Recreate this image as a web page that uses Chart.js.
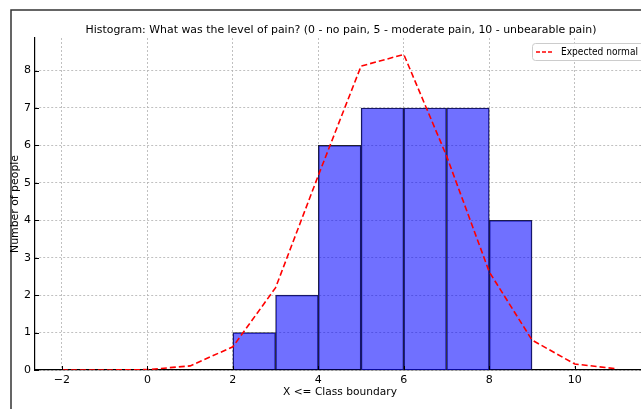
<!DOCTYPE html>
<html>
<head>
<meta charset="utf-8">
<script src="https://cdn.jsdelivr.net/npm/chart.js@4/dist/chart.umd.min.js"></script>
<style>
  html, body { margin: 0; padding: 0; background: #fff; overflow: hidden; }
  #wrap { position: absolute; left: 0; top: 0; width: 641px; height: 409px; }
</style>
</head>
<body>
<div id="wrap"><canvas id="myChart"></canvas></div>
<script>
// histogram bins (left edge) and counts
const binStarts = [2, 3, 4, 5, 6, 7, 8];
const counts = [1, 2, 6, 7, 7, 7, 4];

// expected normal curve
const normalX = [-2, -1, 0, 1, 2, 3, 4, 5, 6, 7, 8, 9, 10, 11];
const normalY = [0, 0, 0.01, 0.11, 0.62, 2.2, 5.2, 8.12, 8.43, 5.72, 2.62, 0.8, 0.16, 0.03];

const xTickVals = [-2, 0, 2, 4, 6, 8, 10];
const yTickVals = [0, 1, 2, 3, 4, 5, 6, 7, 8];

const titleText = 'Histogram: What was the level of pain? (0 - no pain, 5 - moderate pain, 10 - unbearable pain)';
const xLabel = 'X <= Class boundary';
const yLabel = 'Number of people';
const legendLabel = 'Expected normal';

const FONT = '"DejaVu Sans", sans-serif';

// draw text centred at (cx, cy) stretched or squeezed to a given width
function fitText(ctx, text, cx, cy, w) {
    const m = ctx.measureText(text).width;
    ctx.save();
    ctx.translate(cx, cy);
    ctx.scale(w / m, 1);
    ctx.fillText(text, 0, 0);
    ctx.restore();
}

const decor = {
    id: 'decor',
    beforeDraw(chart) {
        const ctx = chart.ctx;
        ctx.save();
        ctx.fillStyle = '#fff';
        ctx.fillRect(0, 0, chart.width, chart.height);
        // outer figure frame
        ctx.strokeStyle = '#333';
        ctx.lineWidth = 1.5;
        ctx.beginPath();
        ctx.moveTo(11, 409);
        ctx.lineTo(11, 10);
        ctx.lineTo(641, 10);
        ctx.stroke();
        ctx.restore();
    },
    afterDraw(chart) {
        const ctx = chart.ctx;
        ctx.save();
        ctx.fillStyle = '#000';
        ctx.textBaseline = 'middle';
        ctx.textAlign = 'center';
        ctx.font = '11px ' + FONT;
        fitText(ctx, titleText, 341, 30, 511);
        ctx.font = '11px ' + FONT;
        fitText(ctx, xLabel, 340, 392, 114);
        ctx.save();
        ctx.translate(15, 204);
        ctx.rotate(-Math.PI / 2);
        fitText(ctx, yLabel, 0, 0, 98);
        ctx.restore();

        // legend box
        ctx.fillStyle = 'rgba(255,255,255,0.85)';
        ctx.strokeStyle = '#ccc';
        ctx.lineWidth = 1;
        ctx.beginPath();
        ctx.roundRect(532.5, 43.5, 120, 17, 3);
        ctx.fill();
        ctx.stroke();
        ctx.strokeStyle = 'red';
        ctx.lineWidth = 1.5;
        ctx.setLineDash([4, 2]);
        ctx.beginPath();
        ctx.moveTo(536, 52);
        ctx.lineTo(554, 52);
        ctx.stroke();
        ctx.setLineDash([]);
        ctx.fillStyle = '#000';
        ctx.textAlign = 'left';
        ctx.font = '10px ' + FONT;
        ctx.fillText(legendLabel, 561, 52, 77);

        // inward ticks like the original
        const xs = chart.scales.x, ys = chart.scales.y;
        ctx.strokeStyle = '#000';
        ctx.lineWidth = 1;
        ctx.beginPath();
        xTickVals.forEach(v => {
            const px = Math.round(xs.getPixelForValue(v)) + 0.5;
            ctx.moveTo(px, ys.bottom);
            ctx.lineTo(px, ys.bottom - 4);
        });
        yTickVals.forEach(v => {
            const py = Math.round(ys.getPixelForValue(v)) + 0.5;
            ctx.moveTo(xs.left, py);
            ctx.lineTo(xs.left + 4, py);
        });
        ctx.stroke();
        ctx.restore();
    }
};

const ctx = document.getElementById('myChart');
const myChart = new Chart(ctx, {
    data: {
        datasets: [
            {
                type: 'line',
                label: legendLabel,
                data: normalX.map((x, i) => ({ x: x, y: normalY[i] })),
                borderColor: 'red',
                borderWidth: 1.6,
                borderDash: [6, 3],
                pointRadius: 0,
                tension: 0,
                fill: false,
                order: 0
            },
            {
                type: 'bar',
                label: 'Count',
                data: binStarts.map((b, i) => ({ x: b + 0.5, y: counts[i] })),
                backgroundColor: 'rgba(0,0,255,0.56)',
                borderColor: '#202030',
                borderWidth: 0.8,
                barPercentage: 1,
                categoryPercentage: 1,
                order: 1
            }
        ]
    },
    options: {
        responsive: true,
        maintainAspectRatio: false,
        animation: false,
        layout: { padding: { top: 38, right: 0, bottom: 0, left: 0 } },
        plugins: {
            legend: { display: false },
            title: { display: false },
            tooltip: { enabled: false }
        },
        scales: {
            x: {
                type: 'linear',
                offset: false,
                min: -2.63,
                max: 11.55,
                afterBuildTicks: axis => { axis.ticks = xTickVals.map(v => ({ value: v })); },
                afterFit: axis => { axis.height = 39; },
                grid: { color: '#b0b0b0', lineWidth: 0.8, drawTicks: false, offset: false },
                border: { color: '#000', width: 1.2, dash: [2, 2] },
                ticks: {
                    color: '#000',
                    font: { family: FONT, size: 11 },
                    padding: 4,
                    maxRotation: 0,
                    callback: v => v < 0 ? '\u2212' + Math.abs(v) : String(v)
                }
            },
            y: {
                min: 0,
                max: 8.87,
                afterBuildTicks: axis => { axis.ticks = yTickVals.map(v => ({ value: v })); },
                afterFit: axis => { axis.width = 35; },
                grid: { color: '#b0b0b0', lineWidth: 0.8, drawTicks: false },
                border: { color: '#000', width: 1.2, dash: [2, 2] },
                ticks: {
                    color: '#000',
                    font: { family: FONT, size: 11 },
                    padding: 4
                }
            }
        }
    },
    plugins: [decor]
});
</script>
</body>
</html>
